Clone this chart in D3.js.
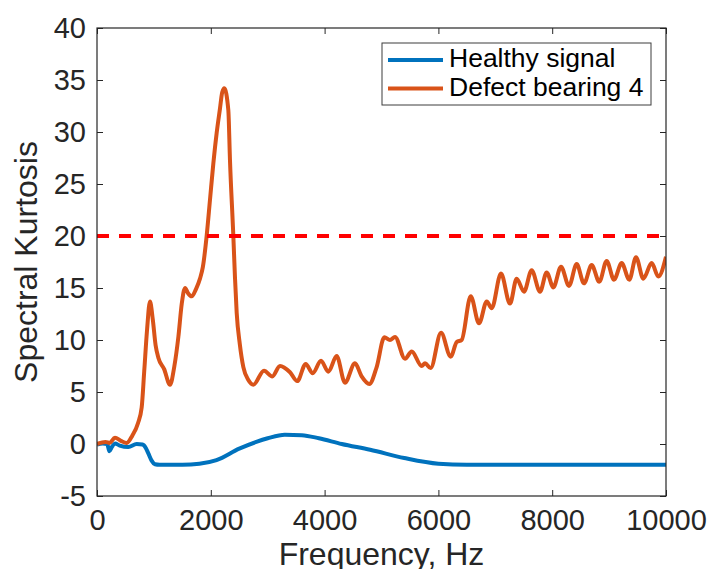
<!DOCTYPE html>
<html lang="en">
<head>
<meta charset="UTF-8">
<title>Spectral Kurtosis</title>
<script src="https://d3js.org/d3.v7.min.js"></script>
<style>
body { margin: 0; background: #fff; font-family: "Liberation Sans", Arial, Helvetica, sans-serif; }
.tick line { stroke: #262626; }
.tick text { fill: #262626; }
</style>
</head>
<body>
<div id="chart"></div>
<script>
// data: [frequency Hz, spectral kurtosis]
var healthy = [
  [0,-0.05],[100,0.05],[180,0.0],[217,-0.7],[260,-0.3],[316,0.05],[400,-0.15],[550,-0.3],
  [697,0.0],[800,-0.05],[860,-0.4],[902,-0.9],[960,-1.6],[1019,-1.95],[1100,-2.0],[1500,-2.0],
  [1800,-1.9],[2100,-1.55],[2500,-0.45],[2800,0.2],[3000,0.55],[3300,0.9],[3600,0.85],
  [3900,0.55],[4300,0.0],[4800,-0.55],[5400,-1.35],[6000,-1.9],[6500,-2.0],[10000,-2.0]
];
var defect = [
  [0,0],[150,0.2],[220,0.1],[316,0.6],[420,0.3],[522,0.1],[620,0.8],[720,2.0],[785,3.5],
  [830,7],[880,11],[931,13.7],[980,12],[1030,9.5],[1078,8.3],[1180,7.2],[1283,5.7],[1360,7.5],
  [1430,10.3],[1490,13.5],[1547,15.0],[1600,14.5],[1664,14.2],[1740,14.9],[1810,15.9],
  [1860,17.0],[1927,20.0],[1986,23.5],[2045,27],[2103,29.9],[2160,32.2],[2200,33.8],[2238,34.2],
  [2308,32.1],[2337,27.3],[2396,20],[2425,16],[2455,12.6],[2510,9.6],[2572,7.4],[2660,6.15],
  [2748,5.7],[2935,7.05],[3081,6.5],[3216,7.5],[3392,6.9],[3520,6.05],[3668,7.7],[3791,6.8],
  [3937,8.0],[4066,6.95],[4212,8.46],[4358,5.9],[4534,7.76],[4651,6.5],[4786,5.77],[4915,7.4],
  [5050,10.26],[5149,10.0],[5237,10.3],[5413,8.2],[5531,8.9],[5706,7.5],[5765,7.76],[5864,7.3],
  [6046,10.7],[6216,8.4],[6322,9.8],[6409,10.0],[6568,14.2],[6714,11.6],[6849,13.7],[6937,13.05],
  [7100,16.4],[7258,13.5],[7376,15.9],[7504,14.65],[7639,16.7],[7786,14.65],[7903,16.5],
  [8020,15.06],[8155,17.05],[8295,15.2],[8430,17.3],[8559,15.45],[8694,17.2],[8828,15.6],
  [8957,17.6],[9086,15.8],[9221,17.4],[9355,15.8],[9473,17.95],[9602,15.9],[9748,17.4],
  [9866,16.1],[10000,18.0]
];
var threshold = 20;
var xTicks = [0, 2000, 4000, 6000, 8000, 10000];
var yTicks = [-5, 0, 5, 10, 15, 20, 25, 30, 35, 40];
var seriesNames = ["Healthy signal", "Defect bearing 4"];
var seriesColors = ["#0072BD", "#D95319"];

var W = 708, H = 569;
var margin = {top: 28, right: 42, bottom: 73, left: 97};
var width = W - margin.left - margin.right,
    height = H - margin.top - margin.bottom;

var svg = d3.select("#chart").append("svg")
    .attr("width", W).attr("height", H)
    .style("font-family", "'Liberation Sans', Arial, Helvetica, sans-serif");

var g = svg.append("g")
    .attr("transform", "translate(" + margin.left + "," + margin.top + ")");

var x = d3.scaleLinear().domain([0, 10000]).range([0, width]);
var y = d3.scaleLinear().domain([-5, 40]).range([height, 0]);

g.append("clipPath").attr("id", "clip")
  .append("rect").attr("width", width).attr("height", height);

// plain hyphen minus like the original
var fmt = function(d) { return String(d); };

// axes with inward ticks
g.append("g")
    .attr("transform", "translate(0," + height + ")")
    .call(d3.axisBottom(x).tickValues(xTicks).tickFormat(fmt)
      .tickSizeInner(-6).tickSizeOuter(0).tickPadding(13));
g.append("g")
    .call(d3.axisTop(x).tickValues(xTicks).tickFormat("")
      .tickSizeInner(-6).tickSizeOuter(0));
g.append("g")
    .call(d3.axisLeft(y).tickValues(yTicks).tickFormat(fmt)
      .tickSizeInner(-6).tickSizeOuter(0).tickPadding(11));
g.append("g")
    .attr("transform", "translate(" + width + ",0)")
    .call(d3.axisRight(y).tickValues(yTicks).tickFormat("")
      .tickSizeInner(-6).tickSizeOuter(0));
g.selectAll(".domain").remove();
g.selectAll(".tick text").style("font-size", "29px")
  .style("font-family", "'Liberation Sans', Arial, Helvetica, sans-serif");

// lines
var line = d3.line()
    .x(function(d) { return x(d[0]); })
    .y(function(d) { return y(d[1]); })
    .curve(d3.curveMonotoneX);

var plot = g.append("g").attr("clip-path", "url(#clip)");

plot.append("path").datum(healthy)
    .attr("fill", "none")
    .attr("stroke", seriesColors[0])
    .attr("stroke-width", 4)
    .attr("stroke-linejoin", "round")
    .attr("d", line);

plot.append("path").datum(defect)
    .attr("fill", "none")
    .attr("stroke", seriesColors[1])
    .attr("stroke-width", 4)
    .attr("stroke-linejoin", "round")
    .attr("d", line);

plot.append("line")
    .attr("x1", x(0)).attr("x2", x(10000))
    .attr("y1", y(threshold)).attr("y2", y(threshold))
    .attr("stroke", "#FF0000")
    .attr("stroke-width", 4)
    .attr("stroke-dasharray", "12,10");

// frame
g.append("rect")
    .attr("width", width).attr("height", height)
    .attr("fill", "none")
    .attr("stroke", "#262626")
    .attr("stroke-width", 1.2);

// axis labels
svg.append("text")
    .attr("x", margin.left + width / 2)
    .attr("y", 565)
    .attr("text-anchor", "middle")
    .style("font-size", "32px")
    .style("fill", "#262626")
    .text("Frequency, Hz");

svg.append("text")
    .attr("transform", "translate(37," + (margin.top + height / 2) + ") rotate(-90)")
    .attr("text-anchor", "middle")
    .style("font-size", "32px")
    .style("fill", "#262626")
    .text("Spectral Kurtosis");

// legend
var lg = svg.append("g");
lg.append("rect")
    .attr("x", 382).attr("y", 43)
    .attr("width", 269).attr("height", 62)
    .attr("fill", "#fff")
    .attr("stroke", "#3c3c3c")
    .attr("stroke-width", 1);

seriesNames.forEach(function(name, i) {
  var ly = 60 + i * 28.5;
  lg.append("line")
    .attr("x1", 388).attr("x2", 443)
    .attr("y1", ly).attr("y2", ly)
    .attr("stroke", seriesColors[i])
    .attr("stroke-width", 4);
  lg.append("text")
    .attr("x", 449).attr("y", ly + 7)
    .style("font-size", "26.5px")
    .style("fill", "#000")
    .text(name);
});
</script>
</body>
</html>
